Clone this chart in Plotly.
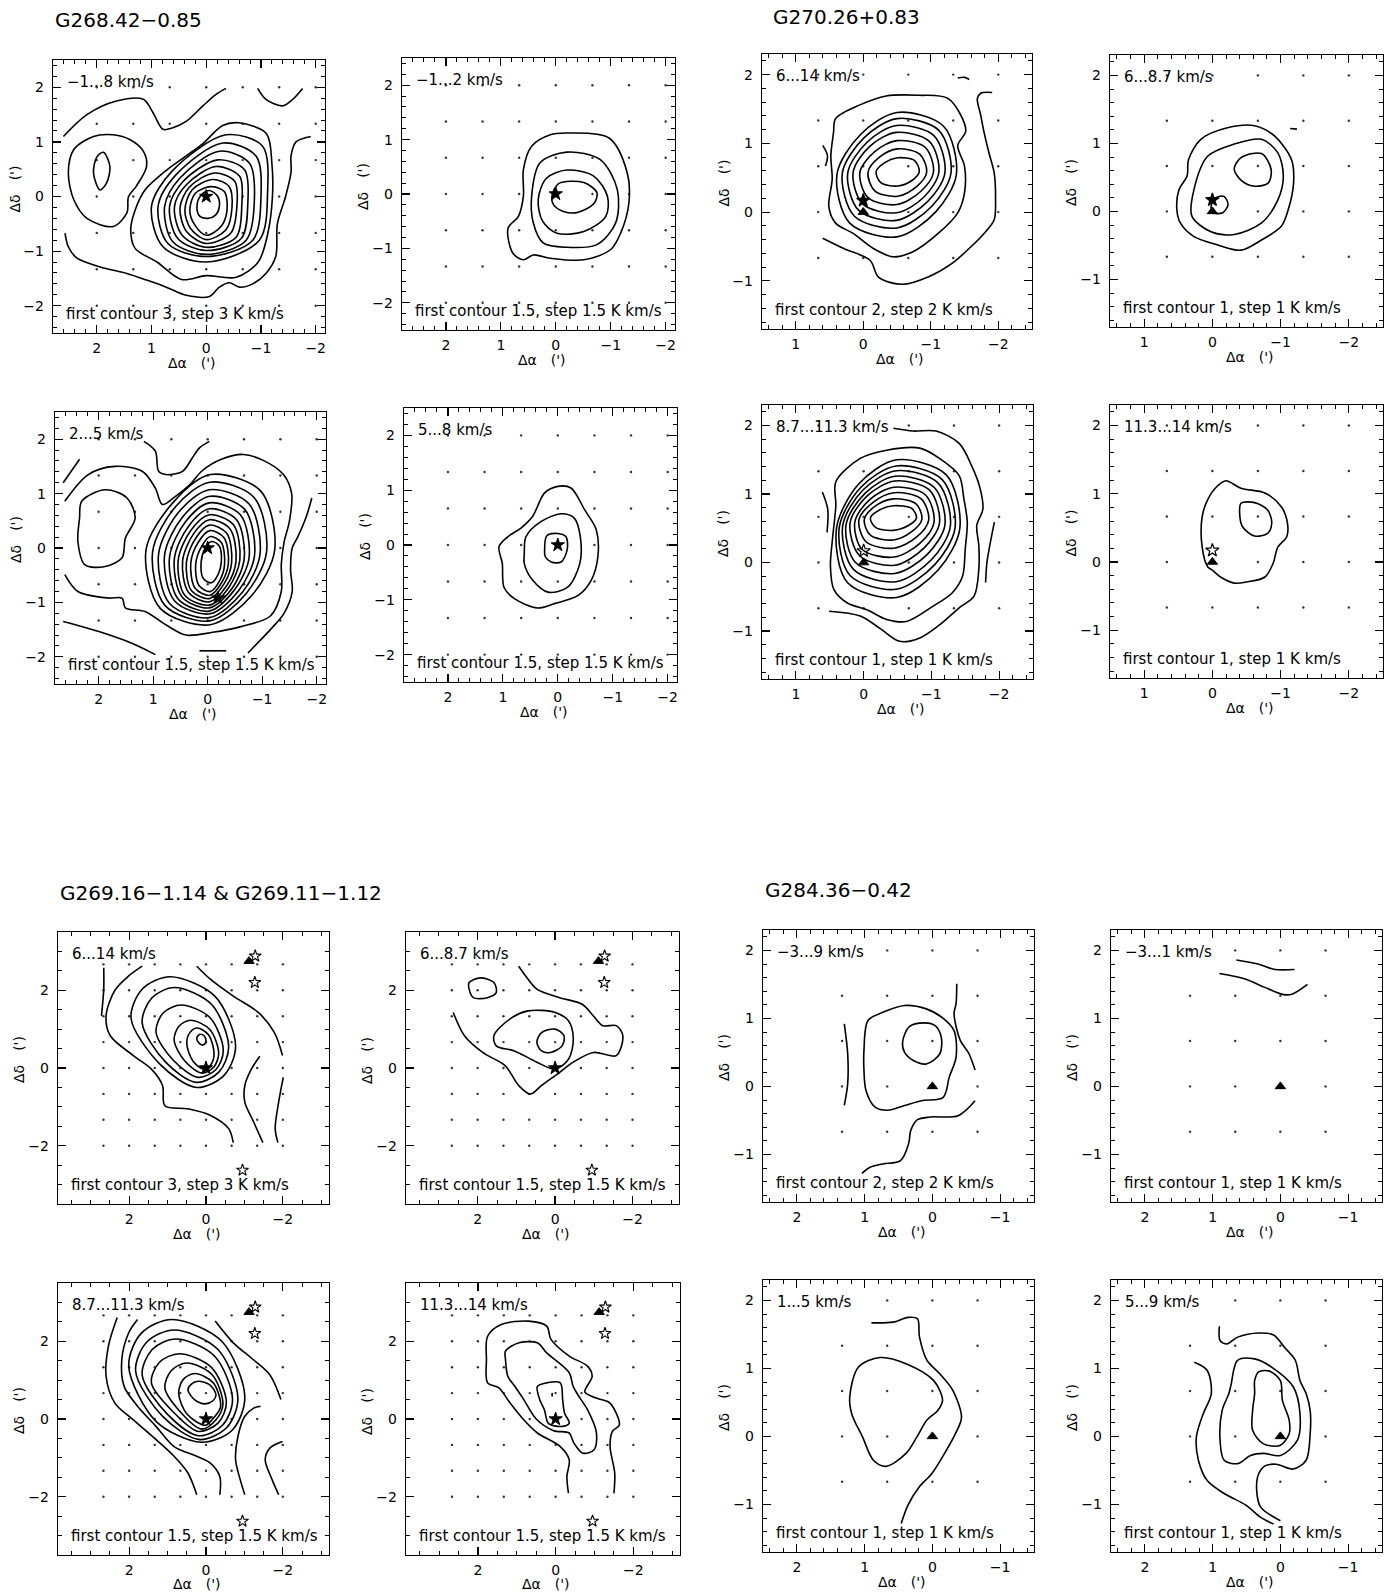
import plotly.graph_objects as go

W, H = 1394, 1594          # page size
OFF = 0                    # body margin removed via post_script below
WF, HF = W - 2 * OFF, H - 2 * OFF
FONT = "DejaVu Sans"

# ====================== DATA (offsets in arcmin) ======================
# ---- G268.42-0.85 ----
P1_OPEN = [
    [(2.61,1.10),(2.18,1.50),(1.64,1.75),(1.15,1.78),(0.97,1.53),(0.79,1.23),(0.61,1.26),(0.36,1.38),(0.06,1.66),(-0.18,1.87),(-0.36,1.98)],
    [(-0.94,1.98),(-1.09,1.78),(-1.39,1.66),(-1.58,1.78),(-1.76,1.98)],
    [(-1.91,1.10),(-1.64,1.0),(-1.55,0.75),(-1.55,0.45),(-1.45,0.0),(-1.30,-0.5),(-1.27,-1.1),(-1.09,-1.41),(-0.85,-1.60),(-0.61,-1.66),(-0.42,-1.58),(-0.24,-1.66),(-0.06,-1.83),(0.36,-1.81),(0.73,-1.66),(1.09,-1.53),(1.45,-1.41),(1.94,-1.29),(2.36,-1.13),(2.52,-0.92),(2.58,-0.67)],
]
P1_CLOSED = [
    [(1.42,0.0),(1.27,0.2),(1.09,0.55),(1.15,0.83),(1.39,1.04),(1.70,1.13),(2.06,1.10),(2.42,0.86),(2.52,0.43),(2.42,-0.06),(2.18,-0.40),(1.70,-0.55),(1.45,-0.30)],
    [(1.88,0.81),(1.76,0.55),(1.82,0.25),(1.94,0.12),(2.06,0.43),(2.0,0.72)],
    [(1.30,-0.25),(1.12,0.12),(0.73,0.48),(0.36,0.75),(0.06,0.97),(-0.30,1.30),(-0.60,1.35),(-1.10,1.15),(-1.2,0.6),(-1.21,0.0),(-1.12,-0.7),(-0.95,-1.2),(-0.55,-1.48),(0,-1.45),(0.45,-1.52),(0.9,-1.2),(1.3,-0.95),(1.38,-0.6)],
    [(1.00,-0.18),(0.62,0.47),(-0.36,1.13),(-1.03,0.92),(-1.12,0.06),(-0.97,-0.80),(0,-1.20),(0.79,-0.92)],
    [(0.88,-0.18),(0.55,0.40),(-0.30,0.98),(-0.91,0.74),(-1.0,0),(-0.85,-0.80),(0,-1.10),(0.70,-0.86)],
    [(0.76,-0.18),(0.48,0.34),(-0.24,0.83),(-0.79,0.61),(-0.88,-0.06),(-0.73,-0.80),(0,-1.06),(0.61,-0.83)],
    [(0.67,-0.18),(0.42,0.28),(-0.21,0.67),(-0.70,0.49),(-0.76,-0.12),(-0.64,-0.77),(0,-0.99),(0.52,-0.77)],
    [(0.58,-0.18),(0.36,0.22),(-0.18,0.55),(-0.61,0.37),(-0.65,-0.15),(-0.55,-0.74),(0,-0.93),(0.44,-0.71)],
    [(0.48,-0.21),(0.31,0.17),(-0.15,0.43),(-0.52,0.28),(-0.56,-0.18),(-0.45,-0.67),(0,-0.86),(0.36,-0.64)],
    [(0.39,-0.25),(0.26,0.12),(-0.12,0.31),(-0.42,0.18),(-0.47,-0.21),(-0.36,-0.61),(0,-0.79),(0.29,-0.58)],
    [(0.30,-0.25),(0.20,0.06),(-0.09,0.18),(-0.33,0.09),(-0.38,-0.25),(-0.27,-0.55),(0,-0.71),(0.21,-0.52)],
    [(0.17,-0.18),(0.10,0.02),(-0.06,0.11),(-0.21,0),(-0.24,-0.18),(-0.17,-0.34),(-0.03,-0.40),(0.12,-0.36)],
]
P2_OPEN = []
P2_CLOSED = [
    [(0.10,1.09),(-0.20,1.12),(-0.97,1.03),(-1.30,0.39),(-1.33,-0.17),(-1.18,-0.72),(-1.0,-1.02),(-0.51,-1.21),(0.10,-1.18),(0.41,-1.12),(0.59,-1.21),(0.78,-1.09),(0.87,-0.63),(0.68,-0.41),(0.59,-0.04),(0.59,0.45),(0.44,0.88)],
    [(0.44,-0.04),(0.29,0.57),(-0.20,0.77),(-0.81,0.63),(-1.12,0.08),(-1.09,-0.53),(-0.75,-0.93),(-0.20,-0.98),(0.23,-0.90),(0.41,-0.53)],
    [(0.32,-0.10),(0.17,0.29),(-0.20,0.44),(-0.69,0.33),(-0.94,-0.04),(-0.91,-0.41),(-0.51,-0.69),(-0.02,-0.72),(0.24,-0.50)],
    [(0.07,-0.04),(-0.05,0.19),(-0.51,0.21),(-0.75,0.02),(-0.69,-0.18),(-0.39,-0.34),(-0.14,-0.32),(0.04,-0.20)],
]
P5_OPEN = [
    [(2.65,1.20),(2.35,1.63)],
    [(1.17,1.96),(0.96,1.78),(0.90,1.41),(0.77,1.35),(0.46,1.41),(0.28,1.66),(0.15,1.84),(-0.03,1.96)],
    [(-1.91,0.92),(-1.80,0.55),(-1.65,0.2),(-1.55,0.0),(-1.52,-0.4),(-1.55,-0.80),(-1.40,-1.2),(-1.15,-1.5),(-0.96,-1.7),(-0.74,-1.93)],
    [(2.65,-1.35),(2.01,-1.53),(1.39,-1.75),(0.96,-1.96)],
    [(0.15,-1.89),(-0.34,-1.89)],
    [(2.62,0.86),(2.19,1.35),(1.70,1.50),(1.20,1.41),(0.96,1.10),(0.83,0.80),(0.59,0.95),(0.34,1.15),(0.10,1.42),(-0.25,1.63),(-0.65,1.72),(-1.0,1.62),(-1.39,1.35),(-1.54,1.0),(-1.50,0.5),(-1.40,0.1),(-1.35,-0.3),(-1.35,-0.80),(-1.15,-1.25),(-0.59,-1.45),(-0.09,-1.55),(0.40,-1.60),(0.77,-1.41),(1.14,-1.17),(1.51,-1.10),(1.57,-0.92),(1.82,-0.92),(2.38,-0.80),(2.62,-0.49)],
]
P5_CLOSED = [
    [(2.31,0.86),(1.88,1.07),(1.48,0.92),(1.33,0.55),(1.51,0.18),(1.57,-0.18),(1.88,-0.34),(2.25,-0.31),(2.38,0.12),(2.35,0.55)],
    [(1.13,-0.03),(0.64,0.83),(-0.05,1.35),(-0.97,1.05),(-1.23,-0.03),(-0.82,-0.86),(-0.05,-1.41),(0.87,-1.11)],
    [(1.01,-0.07),(0.59,0.76),(-0.04,1.21),(-0.85,0.93),(-1.08,-0.07),(-0.71,-0.83),(-0.04,-1.34),(0.78,-1.06)],
    [(0.90,-0.11),(0.53,0.66),(-0.03,1.07),(-0.76,0.81),(-0.96,-0.11),(-0.64,-0.81),(-0.03,-1.28),(0.70,-1.02)],
    [(0.79,-0.13),(0.46,0.57),(-0.04,0.95),(-0.68,0.71),(-0.86,-0.13),(-0.57,-0.78),(-0.04,-1.21),(0.61,-0.97)],
    [(0.70,-0.17),(0.41,0.48),(-0.03,0.83),(-0.60,0.61),(-0.76,-0.17),(-0.50,-0.76),(-0.03,-1.16),(0.54,-0.94)],
    [(0.61,-0.19),(0.35,0.40),(-0.03,0.72),(-0.53,0.52),(-0.67,-0.19),(-0.45,-0.74),(-0.03,-1.10),(0.47,-0.90)],
    [(0.54,-0.22),(0.31,0.32),(-0.03,0.61),(-0.47,0.43),(-0.59,-0.22),(-0.39,-0.72),(-0.03,-1.05),(0.42,-0.87)],
    [(0.46,-0.24),(0.26,0.26),(-0.03,0.52),(-0.41,0.35),(-0.52,-0.24),(-0.35,-0.69),(-0.03,-0.99),(0.35,-0.82)],
    [(0.39,-0.26),(0.22,0.18),(-0.03,0.42),(-0.35,0.27),(-0.44,-0.26),(-0.30,-0.66),(-0.03,-0.93),(0.30,-0.78)],
    [(0.31,-0.28),(0.17,0.11),(-0.04,0.32),(-0.30,0.19),(-0.38,-0.28),(-0.26,-0.63),(-0.04,-0.87),(0.23,-0.74)],
    [(0.22,-0.30),(0.11,0.03),(-0.05,0.21),(-0.25,0.10),(-0.31,-0.30),(-0.22,-0.60),(-0.05,-0.80),(0.16,-0.69)],
    [(0.12,-0.26),(0.05,-0.01),(-0.07,0.12),(-0.21,0.04),(-0.25,-0.26),(-0.19,-0.49),(-0.07,-0.64),(0.08,-0.56)],
]
P6_OPEN = []
P6_CLOSED = [
    [(1.07,-0.03),(0.91,0.15),(0.67,0.31),(0.46,0.52),(0.24,0.95),(0,1.07),(-0.24,1.04),(-0.49,0.64),(-0.70,0.28),(-0.73,-0.21),(-0.61,-0.64),(-0.37,-0.92),(0.06,-1.07),(0.37,-1.15),(0.79,-0.98),(0.98,-0.77),(1.01,-0.34)],
    [(0.61,-0.15),(0.58,0.15),(0.30,0.43),(-0.06,0.57),(-0.30,0.49),(-0.41,0.15),(-0.40,-0.34),(-0.18,-0.77),(0.18,-0.86),(0.46,-0.64),(0.61,-0.34)],
    [(0.24,-0.09),(0.20,0.17),(0,0.21),(-0.15,0.15),(-0.17,-0.09),(-0.06,-0.31),(0.12,-0.31),(0.23,-0.21)],
]
G268_STARS_X = [0]
G268_STARS_Y = [0]
P5_EXTRA_STAR_X = [-0.19]
P5_EXTRA_STAR_Y = [-0.92]

# ---- G270.26+0.83 ----
P3_OPEN = [
    [(-1.40,1.95),(-1.50,1.96),(-1.57,1.93)],
    [(0.60,-0.38),(0.29,-0.53),(-0.10,-0.70),(-0.23,-0.95),(-0.58,-1.05),(-0.97,-0.94),(-1.31,-0.75),(-1.60,-0.50),(-1.79,-0.31),(-1.94,-0.11),(-1.96,0.18),(-1.94,0.57),(-1.86,0.87),(-1.79,1.16),(-1.74,1.41),(-1.69,1.65),(-1.74,1.73),(-1.91,1.74)],
    [(0.60,0.97),(0.53,0.82),(0.56,0.67)],
]
P3_CLOSED = [
    [(0.41,1.36),(0.05,1.56),(-0.34,1.69),(-0.82,1.70),(-1.26,1.65),(-1.52,1.19),(-1.40,0.97),(-1.50,0.67),(-1.50,0.28),(-1.40,-0.01),(-1.11,-0.31),(-0.73,-0.58),(-0.44,-0.65),(-0.15,-0.53),(0.15,-0.31),(0.41,-0.16),(0.51,0.08),(0.46,0.48),(0.48,0.82),(0.44,1.16)],
    [(0.39,0.55),(0.04,1.13),(-0.50,1.45),(-1.19,1.25),(-1.38,0.55),(-1.07,0.0),(-0.50,-0.36),(0.20,-0.16)],
    [(0.31,0.57),(-0.01,1.08),(-0.50,1.36),(-1.12,1.19),(-1.30,0.57),(-1.02,0.09),(-0.50,-0.23),(0.13,-0.06)],
    [(0.23,0.57),(-0.06,1.02),(-0.49,1.26),(-1.05,1.11),(-1.21,0.57),(-0.96,0.16),(-0.49,-0.12),(0.07,0.03)],
    [(0.15,0.58),(-0.10,0.96),(-0.49,1.16),(-0.98,1.03),(-1.12,0.58),(-0.90,0.22),(-0.49,-0.01),(0.01,0.12)],
    [(0.05,0.58),(-0.17,0.88),(-0.50,1.04),(-0.92,0.94),(-1.04,0.58),(-0.85,0.30),(-0.50,0.11),(-0.07,0.21)],
    [(-0.07,0.58),(-0.24,0.80),(-0.51,0.92),(-0.84,0.84),(-0.94,0.58),(-0.79,0.37),(-0.51,0.23),(-0.17,0.31)],
    [(-0.19,0.59),(-0.32,0.72),(-0.51,0.79),(-0.76,0.75),(-0.83,0.59),(-0.72,0.46),(-0.51,0.38),(-0.26,0.43)],
]
P4_OPEN = [
    [(-1.14,1.22),(-1.24,1.21)],
]
P4_CLOSED = [
    [(0.52,0.02),(0.49,0.32),(0.37,0.52),(0.35,0.76),(0.17,1.06),(-0.22,1.23),(-0.62,1.26),(-0.91,1.11),(-1.16,0.76),(-1.19,0.42),(-1.11,0.02),(-1.01,-0.22),(-0.72,-0.42),(-0.42,-0.57),(-0.07,-0.49),(0.27,-0.37),(0.47,-0.17)],
    [(0.30,-0.07),(0.27,0.32),(0.07,0.81),(-0.32,0.99),(-0.72,1.06),(-0.96,0.86),(-1.04,0.52),(-0.96,0.17),(-0.72,-0.17),(-0.32,-0.34),(0.02,-0.30)],
    [(-0.32,0.62),(-0.42,0.79),(-0.72,0.85),(-0.86,0.62),(-0.82,0.42),(-0.62,0.37),(-0.44,0.44)],
    [(-0.05,0.20),(-0.17,0.22),(-0.23,0.10),(-0.15,-0.02),(-0.02,-0.02),(0.02,0.07)],
]
P7_OPEN = [
    [(-0.44,1.96),(-0.73,1.92),(-1.07,1.92),(-1.41,1.74),(-1.60,1.40),(-1.72,1.08),(-1.76,0.78),(-1.67,0.54),(-1.70,0.25),(-1.70,-0.10),(-1.63,-0.49),(-1.41,-0.66),(-1.12,-0.91),(-0.83,-1.10),(-0.53,-1.15),(-0.24,-0.96),(0.05,-0.78),(0.51,-0.71)],
    [(-1.93,0.59),(-1.87,0.29),(-1.82,0.0),(-1.80,-0.29)],
    [(0.61,1.03),(0.53,0.78),(0.54,0.44)],
]
P7_CLOSED = [
    [(0.41,1.18),(0.05,1.52),(-0.34,1.64),(-0.83,1.67),(-1.12,1.52),(-1.41,1.27),(-1.48,0.93),(-1.53,0.59),(-1.50,0.20),(-1.46,-0.20),(-1.31,-0.44),(-1.02,-0.64),(-0.63,-0.86),(-0.34,-0.83),(-0.05,-0.69),(0.24,-0.59),(0.44,-0.39),(0.49,-0.05),(0.46,0.34),(0.41,0.83)],
    [(0.40,0.50),(0.07,1.15),(-0.49,1.50),(-1.22,1.28),(-1.42,0.50),(-1.10,-0.11),(-0.49,-0.51),(0.24,-0.29)],
    [(0.36,0.51),(0.04,1.10),(-0.48,1.41),(-1.16,1.21),(-1.35,0.51),(-1.05,-0.03),(-0.48,-0.39),(0.20,-0.19)],
    [(0.31,0.53),(0.01,1.06),(-0.48,1.34),(-1.10,1.16),(-1.28,0.53),(-1.0,0.04),(-0.48,-0.28),(0.15,-0.10)],
    [(0.26,0.55),(-0.02,1.01),(-0.46,1.26),(-1.04,1.10),(-1.20,0.55),(-0.94,0.12),(-0.46,-0.16),(0.12,0.0)],
    [(0.20,0.58),(-0.06,0.98),(-0.46,1.19),(-0.97,1.06),(-1.12,0.58),(-0.89,0.21),(-0.46,-0.04),(0.06,0.10)],
    [(0.13,0.59),(-0.09,0.92),(-0.45,1.10),(-0.91,0.99),(-1.04,0.59),(-0.83,0.28),(-0.45,0.08),(0.02,0.19)],
    [(0.07,0.62),(-0.14,0.88),(-0.45,1.02),(-0.85,0.93),(-0.96,0.62),(-0.78,0.37),(-0.45,0.21),(-0.04,0.30)],
    [(-0.01,0.63),(-0.18,0.83),(-0.44,0.93),(-0.77,0.86),(-0.86,0.63),(-0.71,0.45),(-0.44,0.33),(-0.10,0.40)],
    [(-0.10,0.65),(-0.24,0.77),(-0.44,0.83),(-0.71,0.79),(-0.78,0.65),(-0.66,0.54),(-0.44,0.47),(-0.18,0.51)],
]
P8_OPEN = []
P8_CLOSED = [
    [(0.07,-0.07),(0.15,0.22),(0.15,0.66),(0.07,0.91),(-0.07,1.11),(-0.20,1.19),(-0.42,1.08),(-0.77,1.01),(-1.01,0.81),(-1.10,0.57),(-1.09,0.37),(-0.96,0.22),(-0.89,-0.02),(-0.77,-0.22),(-0.52,-0.29),(-0.32,-0.31),(-0.12,-0.22),(0,-0.12)],
    [(-0.42,0.86),(-0.62,0.87),(-0.81,0.76),(-0.87,0.57),(-0.81,0.42),(-0.62,0.38),(-0.44,0.52),(-0.40,0.71)],
]
G270_STAR_X = [0]
G270_STAR_Y = [0.17]
G270_TRI_X = [0]
G270_TRI_Y = [0]

# ---- G269.16-1.14 & G269.11-1.12 ----
P9_OPEN = [
    [(2.66,2.58),(2.66,2.03),(2.72,1.34)],
    [(1.66,2.62),(2.01,2.37),(2.37,2.0),(2.60,1.34),(2.49,0.83),(1.89,0.32),(1.42,-0.03),(1.13,-0.45),(1.07,-0.97),(0.47,-1.05),(-0.12,-1.22),(-0.59,-1.56),(-0.71,-1.92)],
    [(0.24,2.62),(-0.12,2.28),(-0.71,1.85),(-1.36,1.43),(-1.78,0.91),(-1.99,0.32)],
    [(-2.01,-0.24),(-1.89,-0.88),(-1.80,-1.56),(-1.87,-1.92)],
    [(-1.40,0.30),(-1.18,-0.03),(-1.01,-0.45),(-1.01,-0.88),(-1.24,-1.39),(-1.48,-1.92)],
]
P9_CLOSED = [
    [(1.95,1.28),(1.65,2.04),(0.93,2.35),(-0.23,1.85),(-0.77,0.57),(-0.47,-0.19),(0.25,-0.50),(1.20,0.10)],
    [(1.66,1.16),(1.41,1.80),(0.82,2.07),(-0.14,1.64),(-0.59,0.55),(-0.34,-0.10),(0.25,-0.37),(1.05,0.15)],
    [(1.30,0.92),(1.11,1.42),(0.64,1.62),(-0.10,1.30),(-0.45,0.46),(-0.26,-0.04),(0.21,-0.24),(0.85,0.20)],
    [(0.83,0.72),(0.70,1.08),(0.40,1.23),(-0.10,0.99),(-0.33,0.38),(-0.20,0.02),(0.11,-0.13),(0.55,0.18)],
    [(0.50,0.63),(0.42,0.91),(0.23,1.03),(-0.07,0.85),(-0.21,0.37),(-0.13,0.09),(0.06,-0.03),(0.34,0.18)],
    [(0.24,0.76),(0.20,0.84),(0.14,0.87),(0.05,0.83),(0.0,0.70),(0.03,0.62),(0.10,0.59),(0.18,0.64)],
]
P10_OPEN = [
    [(2.63,1.43),(2.34,0.83),(1.87,0.40),(1.29,0.06),(0.94,-0.45),(0.64,-0.67),(0.35,-0.45),(-0.12,-0.11),(-0.47,0.15),(-0.99,0.40),(-1.58,0.32),(-1.75,0.83),(-1.58,1.09),(-1.23,1.09),(-0.99,1.34),(-0.70,1.64),(-0.12,1.81),(0.47,2.03),(0.76,2.37),(0.94,2.62)],
]
P10_CLOSED = [
    [(2.22,2.20),(1.93,2.32),(1.58,2.20),(1.52,1.94),(1.75,1.81),(2.11,1.81),(2.22,2.03)],
    [(1.58,0.83),(1.17,1.26),(0.70,1.47),(0,1.43),(-0.35,1.21),(-0.47,0.74),(-0.35,0.23),(0,-0.03),(0.47,0.15),(1.05,0.44),(1.52,0.57)],
    [(0.47,0.66),(0.35,0.91),(0,1.0),(-0.23,0.83),(-0.18,0.57),(0.12,0.40),(0.35,0.44)],
]
P13_OPEN = [
    [(2.31,2.61),(2.54,1.87),(2.60,1.10),(2.37,0.41),(1.89,-0.02),(1.30,-0.53),(0.83,-0.96),(0.47,-1.39),(0.24,-1.95)],
    [(1.78,2.56),(2.01,2.22),(2.19,1.53),(2.13,0.84),(1.78,0.33),(1.30,-0.19),(0.83,-0.71),(0.24,-0.96),(-0.12,-1.14),(-0.36,-1.48),(-0.36,-1.95)],
    [(-0.24,2.52),(-0.71,1.96),(-1.18,1.57),(-1.66,1.14),(-1.95,0.50)],
    [(-1.42,0.33),(-1.24,0.28),(-1.01,0.07),(-0.83,-0.45),(-0.77,-1.05),(-0.89,-1.56),(-1.01,-1.95)],
    [(-1.99,-0.58),(-1.66,-0.75),(-1.54,-1.05),(-1.72,-1.56),(-1.89,-1.95)],
]
P13_CLOSED = [
    [(2.01,1.36),(1.68,2.21),(0.88,2.56),(-0.41,2.0),(-1.01,0.56),(-0.68,-0.29),(0.12,-0.60),(1.30,-0.06)],
    [(1.83,1.23),(1.54,1.98),(0.83,2.29),(-0.30,1.80),(-0.83,0.53),(-0.54,-0.22),(0.17,-0.53),(1.12,0.06)],
    [(1.66,1.13),(1.40,1.79),(0.78,2.06),(-0.22,1.62),(-0.69,0.50),(-0.43,-0.16),(0.19,-0.43),(1.0,0.12)],
    [(1.42,0.93),(1.21,1.46),(0.69,1.68),(-0.14,1.33),(-0.53,0.43),(-0.32,-0.10),(0.20,-0.32),(0.85,0.18)],
    [(1.07,0.80),(0.90,1.25),(0.49,1.44),(-0.16,1.14),(-0.44,0.38),(-0.26,-0.02),(0.11,-0.26),(0.70,0.22)],
    [(0.71,0.66),(0.59,1.02),(0.29,1.17),(-0.19,0.93),(-0.38,0.32),(-0.20,0.03),(0.01,-0.16),(0.49,0.12)],
    [(0.47,0.75),(0.38,0.90),(0.20,0.97),(-0.10,0.88),(-0.26,0.62),(-0.18,0.47),(0.02,0.39),(0.30,0.50)],
]
P14_OPEN = [
    [(-0.33,-1.91),(-0.29,-1.48),(-0.35,-1.05),(-0.12,-0.71),(0.47,-0.36),(0.82,-0.02),(1.17,0.41),(1.46,0.80),(1.75,0.93),(1.78,1.53),(1.75,2.13),(1.40,2.43),(0.70,2.52),(0.23,2.39),(0.12,2.05),(-0.35,1.62),(-0.82,1.36),(-0.94,1.10),(-0.75,0.70),(-0.94,0.58),(-1.17,0.50),(-1.40,0.41),(-1.64,-0.15),(-1.46,-0.32),(-1.40,-0.71),(-1.52,-1.39),(-1.50,-1.91)],
    [(0.09,0.67),(0.09,0.58)],
]
P14_CLOSED = [
    [(1.29,1.75),(0.94,1.96),(0.47,1.96),(0.23,1.70),(-0.35,1.19),(-0.45,0.84),(-0.62,0.55),(-0.82,0.24),(-1.05,-0.36),(-0.99,-0.79),(-0.70,-0.88),(-0.47,-0.62),(-0.35,-0.36),(0.05,-0.30),(0.50,0.0),(0.82,0.50),(1.05,0.84),(1.23,1.10),(1.29,1.53)],
    [(0.47,0.84),(0.23,0.93),(-0.12,0.93),(-0.18,0.50),(-0.23,0.15),(-0.35,-0.10),(-0.18,-0.19),(0.18,-0.12),(0.29,0.24),(0.41,0.50)],
]
G269_FSTAR_X = [0]
G269_FSTAR_Y = [0]
G269_TRI_X = [-1.12]
G269_TRI_Y = [2.75]
G269_OSTAR_X = [-1.28, -1.27, -0.95]
G269_OSTAR_Y = [2.88, 2.20, -2.63]

# ---- G284.36-0.42 ----
P11_OPEN = [
    [(1.30,0.92),(1.25,0.48),(1.25,0.04),(1.30,-0.28)],
    [(-0.36,1.51),(-0.35,1.22),(-0.32,1.07),(-0.41,0.68),(-0.54,0.48),(-0.63,0.24)],
    [(-0.63,-0.21),(-0.38,-0.43),(0.03,-0.45),(0.22,-0.49),(0.32,-0.65),(0.35,-0.84),(0.47,-1.09),(0.73,-1.14),(0.92,-1.19),(1.04,-1.28)],
]
P11_CLOSED = [
    [(1.01,0.53),(0.95,0.97),(0.73,1.09),(0.41,1.19),(0.09,1.14),(-0.16,1.0),(-0.32,0.82),(-0.35,0.43),(-0.25,0.14),(-0.16,-0.16),(0.16,-0.21),(0.41,-0.28),(0.66,-0.35),(0.85,-0.30),(0.98,-0.06),(1.01,0.24)],
    [(0.44,0.65),(0.35,0.87),(0.19,0.93),(-0.03,0.90),(-0.13,0.73),(-0.11,0.48),(0.09,0.33),(0.28,0.38),(0.41,0.50)],
]
P12_OPEN = [
    [(0.65,1.86),(0.33,1.80),(0.08,1.72),(-0.21,1.72)],
    [(0.90,1.66),(0.52,1.58),(0.24,1.46),(-0.05,1.35),(-0.18,1.36),(-0.40,1.50)],
]
P12_CLOSED = []
P15_OPEN = [
    [(0.90,1.67),(0.58,1.68),(0.36,1.75),(0.22,1.73),(0.19,1.46),(0.08,1.12),(-0.11,0.92),(-0.30,0.68),(-0.43,0.28),(-0.34,0.04),(-0.18,-0.25),(0.01,-0.55),(0.20,-0.75),(0.36,-1.01),(0.46,-1.28)],
]
P15_CLOSED = [
    [(1.22,0.58),(1.09,1.02),(0.77,1.16),(0.39,1.07),(-0.02,0.82),(-0.15,0.53),(-0.08,0.38),(0.08,0.24),(0.23,-0.01),(0.39,-0.25),(0.68,-0.44),(0.87,-0.35),(1.03,-0.01),(1.19,0.33)],
]
P16_OPEN = [
    [(0.90,1.62),(0.89,1.41),(0.79,1.36),(0.63,1.46),(0.32,1.52),(0.10,1.49),(-0.06,1.31),(-0.22,1.12),(-0.29,0.82),(-0.38,0.63),(-0.44,0.38),(-0.44,0.04),(-0.38,-0.35),(-0.19,-0.48),(0.06,-0.41),(0.22,-0.43),(0.32,-0.55),(0.35,-0.79),(0.29,-1.04),(0,-1.24)],
    [(1.27,1.09),(1.08,0.97),(1.02,0.63),(1.14,0.33),(1.24,-0.01),(1.21,-0.35),(1.08,-0.65),(0.83,-0.84),(0.51,-1.01),(0.29,-1.19),(0.10,-1.29)],
]
P16_CLOSED = [
    [(0.73,0.75),(0.63,1.12),(0.38,1.14),(0.13,1.02),(-0.19,0.73),(-0.29,0.33),(-0.25,-0.06),(0,-0.28),(0.25,-0.25),(0.44,-0.28),(0.63,-0.40),(0.83,-0.35),(0.89,-0.06),(0.86,0.38),(0.76,0.63)],
    [(0.38,0.82),(0.32,0.95),(0.16,0.96),(0,0.82),(-0.03,0.53),(-0.13,0.24),(-0.13,0.04),(0,-0.13),(0.25,-0.11),(0.41,0.09),(0.41,0.38),(0.38,0.63)],
]
G284_TRI_X = [0]
G284_TRI_Y = [0]

# ---- observed grid positions (40" spacing) ----
G268_GRID_X = [2, 1.333, 0.667, 0, -0.667, -1.333, -2]
G268_GRID_Y = [2, 1.333, 0.667, 0, -0.667, -1.333, -2]
G270_GRID_X = [0.667, 0, -0.667, -1.333, -2]
G270_GRID_Y = [2, 1.333, 0.667, 0, -0.667]
G269_GRID_X = [2.667, 2, 1.333, 0.667, 0, -0.667, -1.333, -2]
G269_GRID_Y = [2.667, 2, 1.333, 0.667, 0, -0.667, -1.333, -2]
G284_GRID_X = [1.333, 0.667, 0, -0.667]
G284_GRID_Y = [2, 1.333, 0.667, 0, -0.667]

# ---- texts ----
GROUP_TITLES = ["G268.42\u22120.85", "G270.26+0.83", "G269.16\u22121.14 & G269.11\u22121.12", "G284.36\u22120.42"]
VEL_LABELS = ["\u22121...8 km/s", "\u22121...2 km/s", "2...5 km/s", "5...8 km/s",
              "6...14 km/s", "6...8.7 km/s", "8.7...11.3 km/s", "11.3...14 km/s",
              "6...14 km/s", "6...8.7 km/s", "8.7...11.3 km/s", "11.3...14 km/s",
              "\u22123...9 km/s", "\u22123...1 km/s", "1...5 km/s", "5...9 km/s"]
CONT_LABELS = ["first contour 3, step 3 K km/s", "first contour 1.5, step 1.5 K km/s",
               "first contour 1.5, step 1.5 K km/s", "first contour 1.5, step 1.5 K km/s",
               "first contour 2, step 2 K km/s", "first contour 1, step 1 K km/s",
               "first contour 1, step 1 K km/s", "first contour 1, step 1 K km/s",
               "first contour 3, step 3 K km/s", "first contour 1.5, step 1.5 K km/s",
               "first contour 1.5, step 1.5 K km/s", "first contour 1.5, step 1.5 K km/s",
               "first contour 2, step 2 K km/s", "first contour 1, step 1 K km/s",
               "first contour 1, step 1 K km/s", "first contour 1, step 1 K km/s"]

# ====================== LAYOUT ======================
# panel boxes in page pixels: left, right, top, bottom
BOXES = [
    (53, 325, 60, 333), (402, 675, 58, 330), (55, 326, 412, 684), (404, 677, 408, 682),
    (762, 1032, 54, 329), (1110, 1383, 55, 327), (762, 1033, 405, 679), (1110, 1383, 405, 678),
    (58, 329, 932, 1204), (406, 679, 932, 1204), (58, 329, 1283, 1555), (406, 680, 1283, 1555),
    (763, 1034, 930, 1202), (1111, 1382, 930, 1202), (763, 1034, 1280, 1552), (1111, 1382, 1280, 1552),
]
GROUP_OF = ["G268"] * 4 + ["G270"] * 4 + ["G269"] * 4 + ["G284"] * 4
RANGES = {
    "G268": ([2.8, -2.17], [-2.5, 2.5], 1, 0.2),
    "G270": ([1.5, -2.5], [-1.7, 2.3], 1, 0.2),
    "G269": ([3.85, -3.2], [-3.5, 3.5], 2, 0.5),
    "G284": ([2.5, -1.5], [-1.7, 2.3], 1, 0.2),
}
GRIDS = {"G268": (G268_GRID_X, G268_GRID_Y), "G270": (G270_GRID_X, G270_GRID_Y),
         "G269": (G269_GRID_X, G269_GRID_Y), "G284": (G284_GRID_X, G284_GRID_Y)}
CONTOURS = [
    (P1_OPEN, P1_CLOSED), (P2_OPEN, P2_CLOSED), (P5_OPEN, P5_CLOSED), (P6_OPEN, P6_CLOSED),
    (P3_OPEN, P3_CLOSED), (P4_OPEN, P4_CLOSED), (P7_OPEN, P7_CLOSED), (P8_OPEN, P8_CLOSED),
    (P9_OPEN, P9_CLOSED), (P10_OPEN, P10_CLOSED), (P13_OPEN, P13_CLOSED), (P14_OPEN, P14_CLOSED),
    (P11_OPEN, P11_CLOSED), (P12_OPEN, P12_CLOSED), (P15_OPEN, P15_CLOSED), (P16_OPEN, P16_CLOSED),
]
TITLE_POS = [(53, 20), (771, 17), (58, 893), (763, 890)]

fig = go.Figure()
annotations = []


def px_x(p):
    return (p - OFF) / WF


def px_y(p):
    return 1 - (p - OFF) / HF


for i, (box, grp) in enumerate(zip(BOXES, GROUP_OF)):
    n = i + 1
    xa = "x" if n == 1 else f"x{n}"
    ya = "y" if n == 1 else f"y{n}"
    l, r, t, b = box
    xr, yr, dmaj, dmin = RANGES[grp]
    common = dict(showline=True, linecolor="black", linewidth=1.4, mirror="allticks",
                  ticks="inside", ticklen=8, tickwidth=1.2, tickcolor="black",
                  showgrid=False, zeroline=False, dtick=dmaj, tick0=0,
                  tickfont=dict(family=FONT, size=14, color="black"),
                  minor=dict(ticks="inside", ticklen=4, tickwidth=1, tickcolor="black",
                             dtick=dmin, tick0=0, showgrid=False),
                  fixedrange=True)
    fig.layout[f"xaxis{'' if n == 1 else n}"] = dict(common, domain=[px_x(l), px_x(r)], range=xr,
                                                     anchor=ya, ticklabelstandoff=2)
    fig.layout[f"yaxis{'' if n == 1 else n}"] = dict(common, domain=[px_y(b), px_y(t)], range=yr,
                                                     anchor=xa, ticklabelstandoff=5)

    # sample grid dots
    gx, gy = GRIDS[grp]
    dx = [x for x in gx for _ in gy]
    dy = [y for _ in gx for y in gy]
    fig.add_trace(go.Scatter(x=dx, y=dy, mode="markers", xaxis=xa, yaxis=ya,
                             marker=dict(size=2.4, color="#333"), hoverinfo="skip", showlegend=False))

    op, cl = CONTOURS[i]
    for c in op:
        fig.add_trace(go.Scatter(x=[p[0] for p in c], y=[p[1] for p in c], mode="lines",
                                 xaxis=xa, yaxis=ya, hoverinfo="skip", showlegend=False,
                                 line=dict(color="black", width=1.6, shape="spline", smoothing=0.9)))
    for c in cl:
        pts = c + [c[0]]
        fig.add_trace(go.Scatter(x=[p[0] for p in pts], y=[p[1] for p in pts], mode="lines",
                                 xaxis=xa, yaxis=ya, hoverinfo="skip", showlegend=False,
                                 line=dict(color="black", width=1.6, shape="spline", smoothing=0.9)))

    def mk(xs, ys, sym, size, lw=1):
        fig.add_trace(go.Scatter(x=xs, y=ys, mode="markers", xaxis=xa, yaxis=ya,
                                 hoverinfo="skip", showlegend=False,
                                 marker=dict(symbol=sym, size=size, color="black",
                                             line=dict(color="black", width=lw))))

    if grp == "G268":
        mk(G268_STARS_X, G268_STARS_Y, "star", 10)
        if n == 3:
            mk(P5_EXTRA_STAR_X, P5_EXTRA_STAR_Y, "star", 10)
    elif grp == "G270":
        mk(G270_STAR_X, G270_STAR_Y, "star" if n in (5, 6) else "star-open", 10, 1.2)
        mk(G270_TRI_X, G270_TRI_Y, "triangle-up", 9)
    elif grp == "G269":
        mk(G269_FSTAR_X, G269_FSTAR_Y, "star", 10)
        mk(G269_TRI_X, G269_TRI_Y, "triangle-up", 9)
        mk(G269_OSTAR_X, G269_OSTAR_Y, "star-open", 9, 1.1)
    else:
        mk(G284_TRI_X, G284_TRI_Y, "triangle-up", 9)

    # inner labels
    annotations.append(dict(x=px_x(l + 12), y=px_y(t + 22), xref="paper", yref="paper",
                            text=VEL_LABELS[i], showarrow=False, xanchor="left", yanchor="middle",
                            font=dict(family=FONT, size=15, color="black")))
    annotations.append(dict(x=px_x(l + 11), y=px_y(b - 19), xref="paper", yref="paper",
                            text=CONT_LABELS[i], showarrow=False, xanchor="left", yanchor="middle",
                            font=dict(family=FONT, size=15, color="black")))
    # axis titles
    ty_x = min(b + 30, H - 10)
    annotations.append(dict(x=px_x((l + r) / 2 + 3), y=px_y(ty_x), xref="paper", yref="paper",
                            text="\u0394\u03b1\u2002\u2002(')", showarrow=False,
                            xanchor="center", yanchor="middle",
                            font=dict(family=FONT, size=14, color="black")))
    tx_y = max(l - 39, 10)
    annotations.append(dict(x=px_x(tx_y), y=px_y((t + b) / 2 - 8), xref="paper", yref="paper",
                            text="\u0394\u03b4\u2002\u2002(')", showarrow=False, textangle=-90,
                            xanchor="center", yanchor="middle",
                            font=dict(family=FONT, size=14, color="black")))

for (tx, ty), txt in zip(TITLE_POS, GROUP_TITLES):
    annotations.append(dict(x=px_x(tx), y=px_y(ty), xref="paper", yref="paper", text=txt,
                            showarrow=False, xanchor="left", yanchor="middle",
                            font=dict(family=FONT, size=20, color="black")))

fig.update_layout(width=WF, height=HF, margin=dict(l=0, r=0, t=0, b=0),
                  paper_bgcolor="white", plot_bgcolor="white", showlegend=False,
                  annotations=annotations)
fig.write_html("out.html", config={"displayModeBar": False, "staticPlot": True},
               post_script="document.body.style.margin='0px';document.body.style.overflow='hidden';")
